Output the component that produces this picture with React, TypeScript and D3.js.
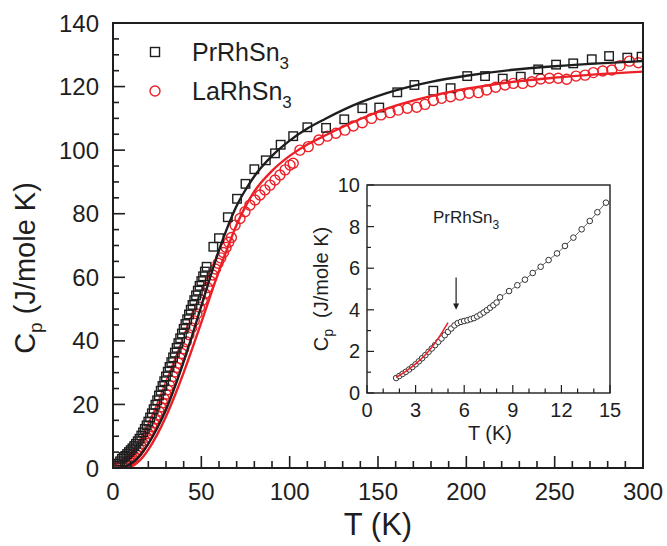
import React from 'react';
import * as d3 from 'd3';

// ---------- Main plot data ----------
const prT = [2,3,4,5,6,7,8,9,10,11,12,13,14,15,16,17,18,19,20,21,22,23,24,25,26,27,28,29,30,31,32,33,34,35,36,37,38,39,40,41,42,43,44,45,46,47,48,49,50,51,52,53,56.8,60,65,70.2,75,80,86.5,91.7,94.9,102,110,120.6,130.9,141.1,150.7,160.9,170.6,181.3,191.1,200.5,210.6,220.6,230.8,240.7,250.8,260.5,271,280.8,291.1,299.2];
const prC = [0.8,1.4,2.1,2.9,3.45,3.8,4.4,5.0,5.6,6.2,6.9,7.6,8.4,9.2,10.2,11.2,12.3,13.4,14.6,15.9,17.2,18.5,19.9,21.3,22.8,24.3,25.8,27.3,28.8,30.3,31.8,33.3,34.8,36.3,37.8,39.3,40.8,42.3,43.8,45.3,46.8,48.3,49.8,51.3,52.8,54.3,55.8,57.3,58.8,60.3,61.8,63.3,69.6,72.3,78.9,84.7,89.4,94.0,96.8,99.0,101.7,104.4,107.2,107.0,109.7,113.2,113.4,118.2,120.5,118.7,119.5,123.3,123.3,122.5,123.1,125.4,126.9,127.3,128.6,129.6,129.1,129.4];

const laT = [2,3,4,5,6,7,8,9,10,11,12,13,14,15,16,17,18,19,20,21,22,23,24,25,26,27,28,29,30,31,32,33,34,35,36,37,38,39,40,41.5,43,44.5,46,47.5,49,50.5,52,53.5,55,56.5,58,59.5,61,62.5,64,65.5,67,69.1,71.9,74.7,77.5,80.4,83.2,86,88.9,91.7,94.5,97.4,100.2,102,105.8,110.5,116.5,121.3,126.2,131.3,136,141.1,146.4,151.7,156.8,161.5,166.6,171.9,176.6,181.3,186,191.1,196.4,201.5,206.8,211.5,216.6,221.9,226.6,231.9,237,242.1,247,252,256.8,262.1,267.2,271.9,277.2,282.3,287,292.3,297.4];
const laC = [0.2,0.35,0.5,0.7,0.95,1.25,1.6,2.0,2.5,3.1,3.7,4.4,5.1,5.9,6.8,7.7,8.7,9.7,10.8,11.9,13.0,14.2,15.4,16.6,17.9,19.2,20.5,21.8,23.2,24.6,26.0,27.4,28.8,30.2,31.6,33.0,34.5,36.0,37.5,39.7,41.9,44.1,46.3,48.5,50.6,52.7,54.8,56.8,58.8,60.7,62.6,64.4,66.1,67.8,69.4,71.0,72.5,76.4,78.5,80.6,82.7,84.3,85.9,87.5,89.0,90.6,92.2,93.8,95.3,95.9,100.0,101.1,103.2,104.4,105.3,106.3,107.6,108.6,110.0,111.1,111.8,112.6,113.2,113.5,114.4,115.6,116.3,116.8,117.3,117.9,118.1,118.9,119.8,120.5,121.0,121.0,121.5,122.4,122.6,122.6,122.3,123.3,123.6,124.4,124.9,125.2,126.6,128.0,127.5];

const fitPrT = [0,5,10,15,20,25,30,35,40,45,50,55,60,65,70,75,80,90,100,110,120,140,160,180,200,225,250,275,300];
const fitPrC = [0,0.2,1.3,3.8,7.6,12.5,18.3,25.5,33.5,42,51,60,68.5,76,82.5,87.5,91.8,98.2,103,106.8,109.8,115,118.8,121.5,123.4,125.2,126.4,127.3,128];

const fitLaT = [0,5,10,15,20,25,30,35,40,45,50,55,60,65,70,75,80,90,100,110,120,140,160,180,200,225,250,275,300];
const fitLaC = [0,0,0.4,2.3,5.8,10.5,16.2,22.8,30,37.8,45.8,54,62,69.5,76.5,82.3,87,93.5,98.2,101.8,104.6,109.8,114,117,119.3,121.4,122.8,123.9,124.7];

const mainXTicks = [0,50,100,150,200,250,300];
const mainYTicks = [0,20,40,60,80,100,120,140];

// ---------- Inset data ----------
const inT = [1.8,2.0,2.2,2.4,2.6,2.8,3.0,3.2,3.4,3.6,3.8,4.0,4.2,4.4,4.6,4.8,5.0,5.2,5.4,5.6,5.8,6.0,6.2,6.4,6.6,6.8,7.0,7.2,7.4,7.6,7.8,8.0,8.21,8.77,9.28,9.75,10.23,10.72,11.21,11.73,12.22,12.74,13.25,13.75,14.22,14.75];
const inC = [0.72,0.82,0.92,1.02,1.13,1.25,1.38,1.52,1.67,1.82,1.98,2.14,2.3,2.46,2.62,2.78,2.94,3.1,3.25,3.36,3.42,3.46,3.5,3.55,3.6,3.68,3.77,3.87,3.98,4.1,4.22,4.35,4.6,4.9,5.18,5.45,5.77,6.07,6.39,6.71,7.07,7.47,7.87,8.27,8.69,9.15];
const inFitT = [1.8,2.5,3.0,3.5,4.0,4.5,5.0];
const inFitC = [0.75,1.1,1.4,1.75,2.2,2.75,3.38];
const inXTicks = [0,3,6,9,12,15];
const inYTicks = [0,2,4,6,8,10];

const RED = '#ec2027';
const BLK = '#1e1e1e';
const FONT = '"Liberation Sans", Arial, Helvetica, sans-serif';

export default function App() {
  // main scales
  const x = d3.scaleLinear().domain([0, 300]).range([113, 643]);
  const y = d3.scaleLinear().domain([0, 140]).range([468, 23]);
  const xi = d3.scaleLinear().domain([0, 15]).range([367, 610]);
  const yi = d3.scaleLinear().domain([0, 10]).range([393, 185]);

  const lineMain = d3.line<[number, number]>().x(d => x(d[0])).y(d => y(d[1])).curve(d3.curveMonotoneX);
  const lineIn = d3.line<[number, number]>().x(d => xi(d[0])).y(d => yi(d[1]));
  const lineInFit = d3.line<[number, number]>().x(d => xi(d[0])).y(d => yi(d[1])).curve(d3.curveMonotoneX);

  const fitPr = fitPrT.map((t, i) => [t, fitPrC[i]] as [number, number]);
  const fitLa = fitLaT.map((t, i) => [t, fitLaC[i]] as [number, number]);
  const inPts = inT.map((t, i) => [t, inC[i]] as [number, number]);
  const inFit = inFitT.map((t, i) => [t, inFitC[i]] as [number, number]);

  const xMinor = d3.range(0, 301, 10);
  const yMinor = d3.range(0, 141, 5);
  const xiMinor = d3.range(0, 15.01, 1);
  const yiMinor = d3.range(0, 10.01, 1);

  const sq = 8.5;

  return (
    <svg width={667} height={546} style={{ position: 'absolute', left: 0, top: 0, background: '#fff' }} fontFamily={FONT}>
      <defs>
        <clipPath id="mainclip">
          <rect x={113} y={23} width={530} height={445} />
        </clipPath>
      </defs>
      <rect x={0} y={0} width={667} height={546} fill="#fff" />

      {/* main data */}
      <g clipPath="url(#mainclip)">
        {laT.map((t, i) => (
          <circle key={'la' + i} cx={x(t)} cy={y(laC[i])} r={5} fill="none" stroke={RED} strokeWidth={1.4} />
        ))}
        {prT.map((t, i) => (
          <rect key={'pr' + i} x={x(t) - sq / 2} y={y(prC[i]) - sq / 2} width={sq} height={sq} fill="none" stroke={BLK} strokeWidth={1.4} />
        ))}
        <path d={lineMain(fitLa) || ''} fill="none" stroke={RED} strokeWidth={2.4} />
        <path d={lineMain(fitPr) || ''} fill="none" stroke={BLK} strokeWidth={2.4} />
      </g>

      {/* main frame */}
      <rect x={113} y={23} width={530} height={445} fill="none" stroke={BLK} strokeWidth={2} />
      {xMinor.map(v => {
        const major = v % 50 === 0;
        return <line key={'xt' + v} x1={x(v)} x2={x(v)} y1={468} y2={468 - (major ? 12 : 7)} stroke={BLK} strokeWidth={1.6} />;
      })}
      {yMinor.map(v => {
        const major = v % 20 === 0;
        return <line key={'yt' + v} x1={113} x2={113 + (major ? 12 : 6)} y1={y(v)} y2={y(v)} stroke={BLK} strokeWidth={1.6} />;
      })}
      {mainXTicks.map(v => (
        <text key={'xl' + v} x={x(v)} y={500} fontSize={24} textAnchor="middle" fill={BLK}>{v}</text>
      ))}
      {mainYTicks.map(v => (
        <text key={'yl' + v} x={99} y={y(v) + 8.5} fontSize={24} textAnchor="end" fill={BLK}>{v}</text>
      ))}
      <text x={378} y={535} fontSize={31} textAnchor="middle" fill={BLK}>T (K)</text>
      <text transform={`translate(35,${268}) rotate(-90)`} fontSize={29} textAnchor="middle" fill={BLK}>
        C<tspan fontSize={19} dy={7}>p</tspan><tspan dy={-7}>{' (J/mole K)'}</tspan>
      </text>

      {/* legend */}
      <rect x={155 - 4.5} y={52 - 4.5} width={9} height={9} fill="none" stroke={BLK} strokeWidth={1.4} />
      <text x={192} y={61} fontSize={25} fill={BLK}>PrRhSn<tspan fontSize={17} dy={8}>3</tspan></text>
      <circle cx={155} cy={91} r={5} fill="none" stroke={RED} strokeWidth={1.4} />
      <text x={192} y={100} fontSize={25} fill={BLK}>LaRhSn<tspan fontSize={17} dy={8}>3</tspan></text>

      {/* inset */}
      <rect x={367} y={185} width={243} height={208} fill="#fff" stroke={BLK} strokeWidth={1.4} />
      {xiMinor.map(v => {
        const major = Math.abs(v % 3) < 1e-6;
        return <line key={'xit' + v} x1={xi(v)} x2={xi(v)} y1={393} y2={393 - (major ? 8 : 4.5)} stroke={BLK} strokeWidth={1.2} />;
      })}
      {yiMinor.map(v => {
        const major = Math.abs(v % 2) < 1e-6;
        return <line key={'yit' + v} x1={367} x2={367 + (major ? 7 : 4)} y1={yi(v)} y2={yi(v)} stroke={BLK} strokeWidth={1.2} />;
      })}
      {inXTicks.map(v => (
        <text key={'xil' + v} x={xi(v)} y={417} fontSize={20} textAnchor="middle" fill={BLK}>{v}</text>
      ))}
      {inYTicks.map(v => (
        <text key={'yil' + v} x={360} y={yi(v) + 7} fontSize={20} textAnchor="end" fill={BLK}>{v}</text>
      ))}
      <text x={490} y={440} fontSize={20} textAnchor="middle" fill={BLK}>T (K)</text>
      <text transform={`translate(328,${289}) rotate(-90)`} fontSize={20} textAnchor="middle" fill={BLK}>
        C<tspan fontSize={14} dy={5}>p</tspan><tspan dy={-5}>{'\u00a0 (J/mole K)'}</tspan>
      </text>
      <text x={433} y={223} fontSize={17} fill={BLK}>PrRhSn<tspan fontSize={12} dy={6}>3</tspan></text>

      <path d={lineIn(inPts) || ''} fill="none" stroke="#444" strokeWidth={0.8} />
      {inPts.map((p, i) => (
        <circle key={'in' + i} cx={xi(p[0])} cy={yi(p[1])} r={2.8} fill="#fff" stroke="#333" strokeWidth={1} />
      ))}
      <path d={lineInFit(inFit) || ''} fill="none" stroke={RED} strokeWidth={1.5} />

      {/* arrow */}
      <line x1={xi(5.5)} x2={xi(5.5)} y1={yi(5.55)} y2={yi(4.15)} stroke={BLK} strokeWidth={1.2} />
      <path d={`M${xi(5.5) - 3},${yi(4.3)} L${xi(5.5)},${yi(4.0)} L${xi(5.5) + 3},${yi(4.3)} Z`} fill={BLK} />
    </svg>
  );
}
